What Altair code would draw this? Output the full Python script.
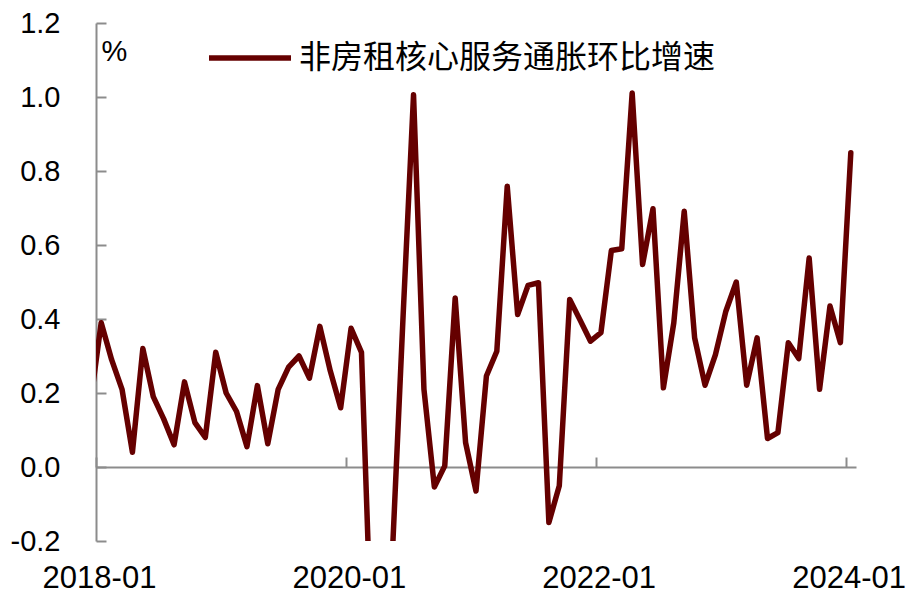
import altair as alt
import pandas as pd

months = [
    "2017-12",
    "2018-01", "2018-02", "2018-03", "2018-04", "2018-05", "2018-06",
    "2018-07", "2018-08", "2018-09", "2018-10", "2018-11", "2018-12",
    "2019-01", "2019-02", "2019-03", "2019-04", "2019-05", "2019-06",
    "2019-07", "2019-08", "2019-09", "2019-10", "2019-11", "2019-12",
    "2020-01", "2020-02", "2020-03", "2020-04", "2020-05", "2020-06",
    "2020-07", "2020-08", "2020-09", "2020-10", "2020-11", "2020-12",
    "2021-01", "2021-02", "2021-03", "2021-04", "2021-05", "2021-06",
    "2021-07", "2021-08", "2021-09", "2021-10", "2021-11", "2021-12",
    "2022-01", "2022-02", "2022-03", "2022-04", "2022-05", "2022-06",
    "2022-07", "2022-08", "2022-09", "2022-10", "2022-11", "2022-12",
    "2023-01", "2023-02", "2023-03", "2023-04", "2023-05", "2023-06",
    "2023-07", "2023-08", "2023-09", "2023-10", "2023-11", "2023-12",
    "2024-01",
]
values = [
    0.18,
    0.39, 0.29, 0.21, 0.04, 0.32, 0.19,
    0.13, 0.06, 0.23, 0.12, 0.08, 0.31,
    0.20, 0.15, 0.055, 0.22, 0.063, 0.21,
    0.27, 0.30, 0.24, 0.38, 0.26, 0.16,
    0.375, 0.31, -0.51, -0.85, -0.215, 0.41,
    1.006, 0.21, -0.054, 0.003, 0.457, 0.066,
    -0.065, 0.246, 0.313, 0.759, 0.412, 0.491,
    0.498, -0.15, -0.051, 0.453, 0.397, 0.34,
    0.363, 0.585, 0.59, 1.011, 0.547, 0.698,
    0.214, 0.39, 0.691, 0.349, 0.221, 0.304,
    0.421, 0.50, 0.221, 0.349, 0.077, 0.093,
    0.336, 0.293, 0.565, 0.21, 0.435, 0.336,
    0.849,
]
series_name = "非房租核心服务通胀环比增速"
tick_months = ["2018-01", "2020-01", "2022-01", "2024-01"]
y_ticks = [-0.2, 0.0, 0.2, 0.4, 0.6, 0.8, 1.0, 1.2]
y_domain = [-0.2, 1.2]

LINE_COLOR = "#650000"
AXIS_COLOR = "#8c8c8c"
W, H = 760, 518


def month_index(m):
    y, mo = m.split("-")
    return (int(y) - 2018) * 12 + int(mo) - 1


df = pd.DataFrame({"month": months, "value": values})
df["idx"] = df["month"].map(month_index)
df["series"] = series_name

tick_vals = [month_index(m) - 0.5 for m in tick_months]
x_domain = [month_index("2018-01") - 0.5, month_index("2024-01") + 0.5]

# label expression mapping tick positions to month labels
expr = "''"
for v, lab in reversed(list(zip(tick_vals, tick_months))):
    expr = f"abs(datum.value - ({v})) < 0.01 ? '{lab}' : ({expr})"

zero_px = H * (y_domain[1] - 0) / (y_domain[1] - y_domain[0])

x_scale = alt.Scale(domain=x_domain, nice=False, zero=False)
y_scale = alt.Scale(domain=y_domain, nice=False, zero=False)

base = alt.Chart(df)

# Decorative axes: zero line with inward ticks, and inward y ticks
axes_layer = base.mark_line(opacity=0).encode(
    x=alt.X("idx:Q", scale=x_scale, axis=alt.Axis(
        orient="top", offset=-zero_px, values=tick_vals, labels=False,
        ticks=True, tickSize=10, tickColor=AXIS_COLOR, tickWidth=2,
        domain=True, domainColor=AXIS_COLOR, domainWidth=2,
        grid=False, title=None)),
    y=alt.Y("value:Q", scale=y_scale, axis=alt.Axis(
        orient="right", offset=-W, values=y_ticks, labels=False,
        ticks=True, tickSize=10, tickColor=AXIS_COLOR, tickWidth=2,
        domain=False, grid=False, title=None)),
)

line_layer = base.mark_line(
    strokeWidth=5.5, clip=True, strokeJoin="round", strokeCap="round"
).encode(
    x=alt.X("idx:Q", scale=x_scale, axis=alt.Axis(
        orient="bottom", values=tick_vals, labelExpr=expr,
        domain=False, ticks=False, grid=False, title=None,
        labelFontSize=31, labelPadding=22, labelColor="#000000",
        labelOffset=3, labelFlush=False, labelOverlap=False)),
    y=alt.Y("value:Q", scale=y_scale, axis=alt.Axis(
        orient="left", values=y_ticks,
        labelExpr="replace(format(datum.value, '.1f'), '\u2212', '-')",
        domain=True, domainColor=AXIS_COLOR, domainWidth=2,
        ticks=False, grid=False, labelFontSize=29, labelPadding=36,
        labelColor="#000000",
        title="%", titleAngle=0, titleAlign="left", titleBaseline="alphabetic",
        titleX=5, titleY=37, titleFontSize=29, titleFontWeight="normal",
        titleColor="#000000")),
    color=alt.Color("series:N", scale=alt.Scale(domain=[series_name], range=[LINE_COLOR]),
                    legend=alt.Legend(
                        title=None, orient="none", legendX=110, legendY=-9,
                        symbolType="stroke", symbolSize=6724, symbolStrokeWidth=5.5,
                        labelFontSize=32, labelFont="Noto Sans CJK SC",
                        labelColor="#000000", labelOffset=5, padding=0, labelLimit=0)),
)

chart = alt.layer(axes_layer, line_layer).resolve_axis(
    x="independent", y="independent"
).properties(
    width=W, height=H,
    autosize=alt.AutoSizeParams(type="none"),
    padding={"left": 88, "top": 15, "right": 52, "bottom": 54},
).configure(
    font="Liberation Sans",
).configure_view(stroke=None)

chart.save("out.html", embed_options={"renderer": "svg", "actions": False})
